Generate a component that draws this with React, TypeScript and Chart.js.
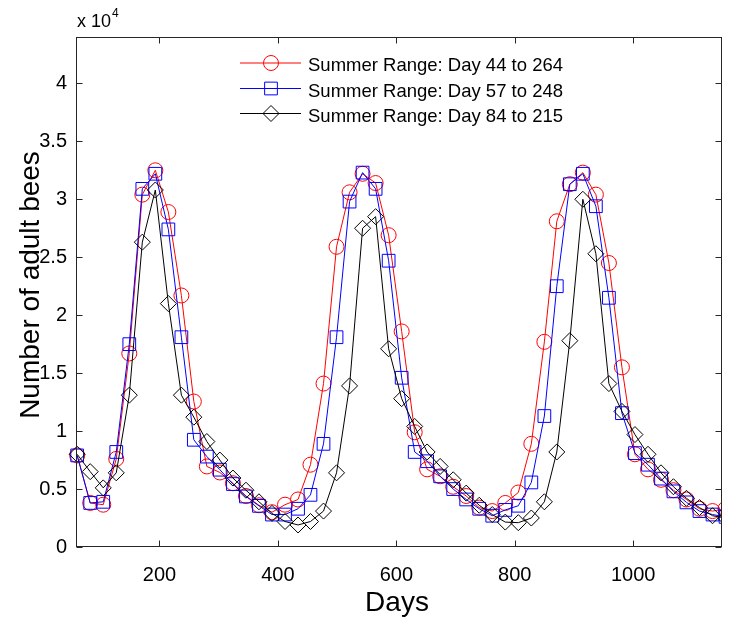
import React, { useEffect, useRef } from 'react';
import { Chart, registerables } from 'chart.js';

Chart.register(...registerables);

const days = [61, 83, 105, 127, 149, 171, 193, 215, 237, 258, 280, 302, 324, 346, 368, 390, 412, 434, 455, 477, 499, 521, 543, 565, 587, 609, 631, 652, 674, 696, 718, 740, 762, 784, 806, 828, 850, 871, 893, 915, 937, 959, 981, 1003, 1025, 1047, 1068, 1090, 1112, 1134, 1156];

const range44to264 = [7900, 3800, 3650, 7600, 16700, 30400, 32500, 28900, 21700, 12550, 6950, 6430, 5500, 4400, 3600, 3000, 3650, 4100, 7100, 14100, 25900, 30600, 32200, 31400, 26900, 18600, 9900, 6700, 6100, 5200, 4400, 3400, 3100, 3800, 4700, 8900, 17700, 28100, 31300, 32300, 30400, 24500, 15500, 8000, 6700, 5800, 4900, 4100, 3300, 3100, 3300];

const range57to248 = [7900, 3800, 3900, 8200, 17500, 30900, 32200, 27400, 18100, 9250, 7800, 6670, 5430, 4360, 3550, 2800, 2800, 3300, 4500, 8900, 18100, 29800, 32300, 30900, 24700, 14600, 8200, 7400, 6100, 5000, 4100, 3300, 2700, 3200, 3560, 5570, 11300, 22500, 31300, 32200, 29400, 21500, 11550, 8100, 7100, 5900, 4800, 3850, 3100, 2800, 2600];

const range84to215 = [8000, 6500, 5100, 6400, 13100, 26300, 30800, 21000, 13100, 11200, 9100, 7500, 5950, 4900, 3900, 2900, 2200, 1900, 2200, 3100, 6400, 13900, 27500, 28500, 17100, 12800, 10400, 8200, 6950, 5800, 4650, 3600, 2800, 2150, 2100, 2500, 3900, 8200, 17800, 30000, 25300, 14100, 11700, 9700, 8000, 6400, 5200, 4200, 3400, 2700, 2500];

const xTickValues = [200, 400, 600, 800, 1000];
const yTickValues = [0, 5000, 10000, 15000, 20000, 25000, 30000, 35000, 40000];
const legendLabels = ['Summer Range: Day 44 to 264', 'Summer Range: Day 57 to 248', 'Summer Range: Day 84 to 215'];
const seriesColors = ['#ff0000', '#0000ff', '#000000'];
const seriesMarkers = ['circle', 'rect', 'rectRot'];
const xTitle = 'Days';
const yTitle = 'Number of adult bees';

const FONT = '"Liberation Sans", Arial, Helvetica, sans-serif';
const AXIS_COLOR = '#262626';

function drawMarker(ctx: CanvasRenderingContext2D, style: string, x: number, y: number, color: string) {
  ctx.save();
  ctx.strokeStyle = color;
  ctx.lineWidth = 1;
  ctx.beginPath();
  if (style === 'circle') {
    ctx.arc(x, y, 7.5, 0, Math.PI * 2);
  } else if (style === 'rect') {
    const s = 9 * Math.SQRT1_2;
    ctx.rect(x - s, y - s, 2 * s, 2 * s);
  } else {
    const r = 8;
    ctx.moveTo(x, y - r);
    ctx.lineTo(x + r, y);
    ctx.lineTo(x, y + r);
    ctx.lineTo(x - r, y);
    ctx.closePath();
  }
  ctx.stroke();
  ctx.restore();
}

const framePlugin = {
  id: 'matlabFrame',
  afterDatasetsDraw(chart: any) {
    const { ctx, chartArea: a, scales } = chart;
    const L = Math.round(a.left) + 0.5;
    const R = Math.round(a.right) - 0.5;
    const T = Math.round(a.top) + 0.5;
    const B = Math.round(a.bottom) - 0.5;
    ctx.save();
    ctx.strokeStyle = AXIS_COLOR;
    ctx.lineWidth = 1;
    ctx.strokeRect(L, T, R - L, B - T);
    const tl = 6;
    ctx.beginPath();
    scales.x.ticks.forEach((t: any) => {
      const px = Math.round(scales.x.getPixelForValue(t.value)) + 0.5;
      ctx.moveTo(px, B);
      ctx.lineTo(px, B - tl);
      ctx.moveTo(px, T);
      ctx.lineTo(px, T + tl);
    });
    scales.y.ticks.forEach((t: any) => {
      const py = Math.round(scales.y.getPixelForValue(t.value)) + 0.5;
      ctx.moveTo(L, py);
      ctx.lineTo(L + tl, py);
      ctx.moveTo(R, py);
      ctx.lineTo(R - tl, py);
    });
    ctx.stroke();

    ctx.fillStyle = '#000';
    // axis titles
    ctx.font = `28px ${FONT}`;
    ctx.textAlign = 'center';
    ctx.textBaseline = 'alphabetic';
    ctx.fillText(xTitle, (a.left + a.right) / 2 - 2, 611);
    ctx.save();
    ctx.translate(39, (a.top + a.bottom) / 2 - 7);
    ctx.rotate(-Math.PI / 2);
    ctx.fillText(yTitle, 0, 0);
    ctx.restore();

    // exponent label
    ctx.textAlign = 'left';
    ctx.font = `18px ${FONT}`;
    ctx.fillText('x 10', a.left + 1, 27);
    const w = ctx.measureText('x 10').width;
    ctx.font = `12px ${FONT}`;
    ctx.fillText('4', a.left + 1 + w + 1, 17);

    // legend
    const rows = [62.5, 88, 113];
    legendLabels.forEach((label, i) => {
      const y = rows[i];
      ctx.strokeStyle = seriesColors[i];
      ctx.lineWidth = 1;
      ctx.beginPath();
      ctx.moveTo(240, y + 0.5);
      ctx.lineTo(301, y + 0.5);
      ctx.stroke();
      drawMarker(ctx, seriesMarkers[i], 271, y + 0.5, seriesColors[i]);
      ctx.fillStyle = '#000';
      ctx.font = `18.5px ${FONT}`;
      ctx.textBaseline = 'alphabetic';
      ctx.fillText(label, 308, y + 8.5);
    });
    ctx.restore();
  },
};

export default function App() {
  const ref = useRef<HTMLCanvasElement | null>(null);
  useEffect(() => {
    if (!ref.current) return;
    const mk = (data: number[], i: number, order: number) => ({
      label: legendLabels[i],
      data: days.map((d, k) => ({ x: d, y: data[k] })),
      borderColor: seriesColors[i],
      borderWidth: 1,
      pointStyle: seriesMarkers[i],
      pointRadius: i === 0 ? 7.5 : i === 1 ? 9 : 8,
      pointBorderWidth: 1,
      pointBorderColor: seriesColors[i],
      pointBackgroundColor: 'rgba(0,0,0,0)',
      pointHoverRadius: i === 0 ? 7.5 : i === 1 ? 9 : 8,
      fill: false,
      tension: 0,
      order,
      clip: { left: 12, top: 0, right: 0, bottom: 0 },
    });
    const chart = new Chart(ref.current, {
      type: 'line',
      data: {
        datasets: [mk(range44to264, 0, 3), mk(range57to248, 1, 2), mk(range84to215, 2, 1)] as any,
      },
      plugins: [framePlugin],
      options: {
        animation: false,
        responsive: false,
        devicePixelRatio: 1,
        layout: { padding: { top: 37, right: 4, left: 0, bottom: 0 } },
        plugins: { legend: { display: false }, tooltip: { enabled: false } },
        events: [],
        scales: {
          x: {
            type: 'linear',
            min: 59,
            max: 1150,
            grid: { display: false, drawTicks: false },
            border: { display: false },
            afterBuildTicks: (s: any) => {
              s.ticks = xTickValues.map((v) => ({ value: v }));
            },
            afterFit: (s: any) => {
              s.height = 77;
            },
            ticks: {
              color: '#000',
              padding: 16,
              font: { family: FONT, size: 20 },
              maxRotation: 0,
              callback: (v: any) => String(v),
            },
          },
          y: {
            type: 'linear',
            min: 0,
            max: 44000,
            grid: { display: false, drawTicks: false },
            border: { display: false },
            afterBuildTicks: (s: any) => {
              s.ticks = yTickValues.map((v) => ({ value: v }));
            },
            afterFit: (s: any) => {
              s.width = 76;
            },
            ticks: {
              color: '#000',
              padding: 9,
              font: { family: FONT, size: 20 },
              callback: (v: any) => String(Number(v) / 10000),
            },
          },
        },
      } as any,
    });
    return () => chart.destroy();
  }, []);
  return (
    <div style={{ position: 'absolute', left: 0, top: 0, width: 732, height: 624, background: '#fff' }}>
      <canvas ref={ref} width={732} height={624} style={{ width: 732, height: 624, display: 'block' }} />
    </div>
  );
}
